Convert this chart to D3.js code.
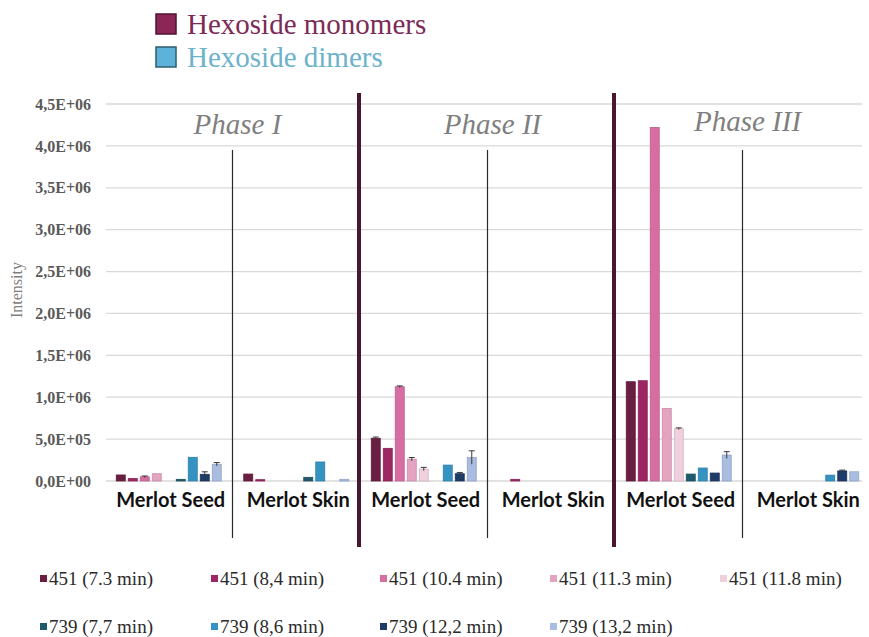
<!DOCTYPE html>
<html>
<head>
    <meta charset="utf-8">
    <title>Hexoside monomers and dimers</title>
    <script src="https://d3js.org/d3.v7.min.js"></script>
</head>
<body style="margin:0">
<script>
// data (intensity values)
var phases = ["Phase I", "Phase II", "Phase III"];
var tissues = ["Merlot Seed", "Merlot Skin"];
var seriesNames = ["451 (7.3 min)", "451 (8,4 min)", "451 (10.4 min)", "451 (11.3 min)", "451 (11.8 min)",
                   "739 (7,7 min)", "739 (8,6 min)", "739 (12,2 min)", "739 (13,2 min)"];
var seriesColors = ["#6a1f42", "#9c2763", "#d66ea2", "#e3a3c1", "#f1d0de",
                    "#1f5a6c", "#3593c2", "#1f3b68", "#a8bde0"];

// one array per phase/tissue, one value per series
var phase1Seed = [72000, 30000, 50000, 87000, 0, 20000, 283000, 80000, 200000];
var phase1Skin = [83000, 16000, 0, 0, 0, 44000, 227000, 0, 20000];
var phase2Seed = [510000, 390000, 1125000, 260000, 143000, 0, 190000, 87000, 280000];
var phase2Skin = [0, 20000, 0, 0, 0, 0, 0, 0, 0];
var phase3Seed = [1185000, 1197000, 4220000, 867000, 624000, 83000, 155000, 95000, 310000];
var phase3Skin = [0, 0, 0, 0, 0, 0, 70000, 120000, 110000];

// error bars (same layout)
var phase1SeedErr = [0, 0, 10000, 0, 0, 0, 0, 30000, 20000];
var phase1SkinErr = [0, 0, 0, 0, 0, 0, 0, 0, 0];
var phase2SeedErr = [15000, 0, 10000, 20000, 20000, 0, 0, 15000, 80000];
var phase2SkinErr = [0, 0, 0, 0, 0, 0, 0, 0, 0];
var phase3SeedErr = [0, 0, 0, 0, 10000, 0, 0, 0, 40000];
var phase3SkinErr = [0, 0, 0, 0, 0, 0, 0, 10000, 0];

var yTicks = [0, 500000, 1000000, 1500000, 2000000, 2500000, 3000000, 3500000, 4000000, 4500000];
var yTickLabels = ["0,0E+00", "5,0E+05", "1,0E+06", "1,5E+06", "2,0E+06", "2,5E+06",
                   "3,0E+06", "3,5E+06", "4,0E+06", "4,5E+06"];
var legendTop = [{name: "Hexoside monomers", fill: "#8c2657", stroke: "#4d1530", text: "#7d2a57"},
                 {name: "Hexoside dimers", fill: "#5cb2d8", stroke: "#2c5e6e", text: "#6db2cb"}];

var groups = [
  {phase: "Phase I", tissue: "Merlot Seed", values: phase1Seed, errs: phase1SeedErr},
  {phase: "Phase I", tissue: "Merlot Skin", values: phase1Skin, errs: phase1SkinErr},
  {phase: "Phase II", tissue: "Merlot Seed", values: phase2Seed, errs: phase2SeedErr},
  {phase: "Phase II", tissue: "Merlot Skin", values: phase2Skin, errs: phase2SkinErr},
  {phase: "Phase III", tissue: "Merlot Seed", values: phase3Seed, errs: phase3SeedErr},
  {phase: "Phase III", tissue: "Merlot Skin", values: phase3Skin, errs: phase3SkinErr}
];
groups.forEach(function(g) { g.key = g.phase + "|" + g.tissue; });

var width = 869, height = 637;
var SERIF = "'Liberation Serif', monospace";

var svg = d3.select("body")
  .append("svg")
  .attr("width", width)
  .attr("height", height);

// scales
var x = d3.scaleBand()
  .domain(groups.map(function(d) { return d.key; }))
  .range([105, 870]);

var xInner = d3.scaleBand()
  .domain(seriesNames)
  .range([-54, 54])
  .paddingInner(0.25)
  .paddingOuter(0.125);

var y = d3.scaleLinear()
  .domain([0, 4500000])
  .range([481, 104]);

var color = d3.scaleOrdinal().domain(seriesNames).range(seriesColors);

// gridlines
svg.append("g")
  .selectAll("line")
  .data(yTicks)
  .enter()
  .append("line")
    .attr("x1", 106)
    .attr("x2", 862)
    .attr("y1", function(d) { return y(d); })
    .attr("y2", function(d) { return y(d); })
    .attr("stroke", "#d9d9d9")
    .attr("stroke-width", 1.3);

// y axis
var yAxis = svg.append("g")
  .attr("transform", "translate(106,0)")
  .call(d3.axisLeft(y).tickValues(yTicks)
    .tickFormat(function(d, i) { return yTickLabels[i]; })
    .tickSize(0).tickPadding(15));
yAxis.select(".domain").remove();
yAxis.attr("font-family", null);
yAxis.selectAll("text")
  .style("font-family", SERIF)
  .style("font-size", "16px")
  .style("font-weight", "bold")
  .attr("fill", "#5a5a5a");

svg.append("text")
  .attr("transform", "translate(22," + 290 + ") rotate(-90)")
  .attr("text-anchor", "middle")
  .style("font-family", SERIF)
  .style("font-size", "16px")
  .attr("fill", "#808080")
  .text("Intensity");

// bars
var groupSel = svg.selectAll(".grp")
  .data(groups)
  .enter()
  .append("g")
    .attr("class", "grp")
    .attr("transform", function(d) { return "translate(" + (x(d.key) + x.bandwidth() / 2) + ",0)"; });

groupSel.selectAll("rect")
  .data(function(d) { return d.values.map(function(v, i) { return {name: seriesNames[i], value: v, err: d.errs[i]}; }); })
  .enter()
  .filter(function(d) { return d.value > 0; })
  .append("rect")
    .attr("x", function(d) { return xInner(d.name); })
    .attr("y", function(d) { return y(d.value); })
    .attr("width", xInner.bandwidth())
    .attr("height", function(d) { return y(0) - y(d.value); })
    .attr("fill", function(d) { return color(d.name); })
    .attr("stroke", function(d) { return d3.color(color(d.name)).darker(0.4); })
    .attr("stroke-width", 0.8);

// error bars
var errSel = groupSel.selectAll(".err")
  .data(function(d) { return d.values.map(function(v, i) { return {name: seriesNames[i], value: v, err: d.errs[i]}; }); })
  .enter()
  .filter(function(d) { return d.err > 0; })
  .append("g")
    .attr("class", "err")
    .attr("stroke", "#3a3a3a")
    .attr("stroke-width", 1);
errSel.append("line")
  .attr("x1", function(d) { return xInner(d.name) + xInner.bandwidth() / 2; })
  .attr("x2", function(d) { return xInner(d.name) + xInner.bandwidth() / 2; })
  .attr("y1", function(d) { return y(d.value - d.err); })
  .attr("y2", function(d) { return y(d.value + d.err); });
errSel.append("line")
  .attr("x1", function(d) { return xInner(d.name) + 1.5; })
  .attr("x2", function(d) { return xInner(d.name) + xInner.bandwidth() - 1.5; })
  .attr("y1", function(d) { return y(d.value + d.err); })
  .attr("y2", function(d) { return y(d.value + d.err); });

// category labels
svg.selectAll(".cat")
  .data(groups)
  .enter()
  .append("text")
    .attr("class", "cat")
    .attr("x", function(d) { return x(d.key) + x.bandwidth() / 2 + 2; })
    .attr("y", 507)
    .attr("text-anchor", "middle")
    .style("font-family", "'Lato', sans-serif")
    .style("font-weight", "bold")
    .style("font-size", "20px")
    .attr("fill", "#111")
    .text(function(d) { return d.tissue; });

// thin separators between seed and skin
svg.selectAll(".thin")
  .data(phases)
  .enter()
  .append("line")
    .attr("x1", function(p) { return x(p + "|Merlot Skin"); })
    .attr("x2", function(p) { return x(p + "|Merlot Skin"); })
    .attr("y1", 150)
    .attr("y2", 538)
    .attr("stroke", "#2a2a2a")
    .attr("stroke-width", 1.2);

// thick separators between phases
svg.selectAll(".thick")
  .data(phases.slice(1))
  .enter()
  .append("line")
    .attr("x1", function(p) { return x(p + "|Merlot Seed") - 1; })
    .attr("x2", function(p) { return x(p + "|Merlot Seed") - 1; })
    .attr("y1", 93)
    .attr("y2", 547)
    .attr("stroke", "#4a1630")
    .attr("stroke-width", 4);

// phase labels
svg.selectAll(".phase")
  .data(phases)
  .enter()
  .append("text")
    .attr("x", function(p) { return x(p + "|Merlot Skin") + 5; })
    .attr("y", function(p, i) { return i == 2 ? 131 : 134; })
    .attr("text-anchor", "middle")
    .style("font-family", SERIF)
    .style("font-style", "italic")
    .style("font-size", "29px")
    .attr("fill", "#7f7f7f")
    .text(function(p) { return p; });

// top legend
var topLeg = svg.selectAll(".topleg")
  .data(legendTop)
  .enter()
  .append("g")
    .attr("transform", function(d, i) { return "translate(156," + (14 + i * 33) + ")"; });
topLeg.append("rect")
  .attr("width", 20)
  .attr("height", 20)
  .attr("fill", function(d) { return d.fill; })
  .attr("stroke", function(d) { return d.stroke; })
  .attr("stroke-width", 1.5);
topLeg.append("text")
  .attr("x", 31)
  .attr("y", 20)
  .style("font-family", SERIF)
  .style("font-size", "29px")
  .attr("fill", function(d) { return d.text; })
  .text(function(d) { return d.name; });

// bottom legend
var legX = [40, 211, 380, 550, 720];
var bottomLeg = svg.selectAll(".botleg")
  .data(seriesNames)
  .enter()
  .append("g")
    .attr("transform", function(d, i) {
      var row = i < 5 ? 0 : 1;
      var col = i < 5 ? i : i - 5;
      return "translate(" + legX[col] + "," + (579 + row * 48) + ")";
    });
bottomLeg.append("rect")
  .attr("y", -4)
  .attr("width", 7)
  .attr("height", 7)
  .attr("fill", function(d) { return color(d); });
bottomLeg.append("text")
  .attr("x", 9)
  .attr("y", 6)
  .style("font-family", SERIF)
  .style("font-size", "19px")
  .attr("fill", "#2a2a2a")
  .text(function(d) { return d; });
</script>
</body>
</html>
